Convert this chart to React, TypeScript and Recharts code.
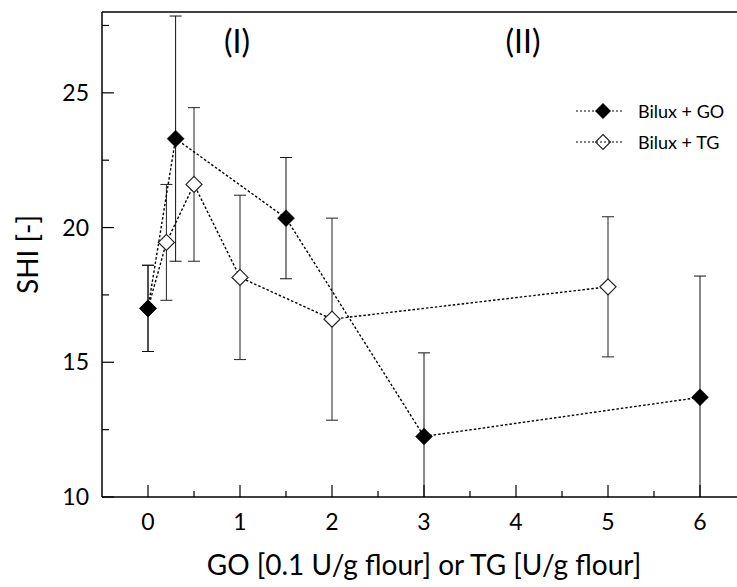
import React from 'react';
import { LineChart, Line, XAxis, YAxis, ErrorBar, ReferenceLine, Legend } from 'recharts';

const FONT = 'Lato, "Open Sans", sans-serif';

// Bilux + GO
const goX = [0, 0.3, 1.5, 3, 6];
const goY = [17.0, 23.3, 20.35, 12.25, 13.7];
const goErr = [1.6, 4.55, 2.25, 3.1, 4.5];

// Bilux + TG
const tgX = [0, 0.2, 0.5, 1, 2, 5];
const tgY = [17.0, 19.45, 21.6, 18.15, 16.6, 17.8];
const tgErr = [1.6, 2.15, 2.85, 3.05, 3.75, 2.6];

const xTicks = [0, 0.5, 1, 1.5, 2, 2.5, 3, 3.5, 4, 4.5, 5, 5.5, 6];
const yTicks = [10, 12.5, 15, 17.5, 20, 22.5, 25, 27.5];
const yLabelTicks = [10, 15, 20, 25];

const seriesNames = ['Bilux + GO', 'Bilux + TG'];
const regionLabels = ['(I)', '(II)'];

const goData = goX.map((x, i) => ({ x, y: goY[i], err: goErr[i] }));
const tgData = tgX.map((x, i) => ({ x, y: tgY[i], err: tgErr[i] }));

// plot box in chart pixels (margin left 102, top 12, right 14, x-axis height 90)
const PLOT = { x: 102, y: 12, w: 644, h: 485 };

const diamond = (cx: number, cy: number, r: number) =>
  `M${cx},${cy - r} L${cx + r},${cy} L${cx},${cy + r} L${cx - r},${cy} Z`;

const FilledDot = (p: any) => <path key={p.index} d={diamond(p.cx, p.cy, 8.5)} fill="#000" stroke="#000" strokeWidth={0.5} />;
const OpenDot = (p: any) => <path key={p.index} d={diamond(p.cx, p.cy, 8)} fill="#fff" stroke="#222" strokeWidth={1.2} />;

const XTick = ({ x, y, payload }: any) => {
  const major = Number.isInteger(payload.value);
  return (
    <g>
      <line x1={x} x2={x} y1={y} y2={y - (major ? 12 : 6)} stroke="#000" strokeWidth={1.2} />
      {major && (
        <text x={x} y={y + 33} textAnchor="middle" fontSize={23} fontFamily={FONT} fill="#000">
          {payload.value}
        </text>
      )}
    </g>
  );
};

const YTick = ({ x, y, payload }: any) => {
  const major = yLabelTicks.includes(payload.value);
  return (
    <g>
      <line x1={x} x2={x + (major ? 12 : 7)} y1={y} y2={y} stroke="#000" strokeWidth={1.2} />
      {major && (
        <text x={x - 13} y={y + 8} textAnchor="end" fontSize={23} fontFamily={FONT} fill="#000">
          {payload.value}
        </text>
      )}
    </g>
  );
};

const YTitle = ({ viewBox }: any) => {
  const cx = viewBox.x + 27;
  const cy = viewBox.y + viewBox.height / 2;
  return (
    <text x={cx} y={cy} transform={`rotate(-90 ${cx} ${cy})`} textAnchor="middle" dominantBaseline="central" fontSize={28} fontFamily={FONT} fill="#000">
      SHI [-]
    </text>
  );
};

const LegendBox = () => (
  <div style={{ fontFamily: FONT, fontSize: 18, color: '#000' }}>
    {seriesNames.map((name, i) => (
      <div key={name} style={{ display: 'flex', alignItems: 'center', height: 31 }}>
        <svg width={46} height={20}>
          <line x1={0} x2={46} y1={10} y2={10} stroke="#000" strokeWidth={1.2} strokeDasharray="2 2" />
          {i === 0 ? (
            <path d={diamond(27, 10, 8)} fill="#000" />
          ) : (
            <path d={diamond(27, 10, 7.5)} fill="none" stroke="#222" strokeWidth={1.1} />
          )}
        </svg>
        <span style={{ marginLeft: 16 }}>{name}</span>
      </div>
    ))}
  </div>
);

export default function App() {
  return (
    <div style={{ position: 'absolute', left: 0, top: 0, width: 737, height: 587, overflow: 'hidden', background: '#fff' }}>
      <svg width={0} height={0} style={{ position: 'absolute' }}>
        <defs>
          <clipPath id="plot-clip" clipPathUnits="userSpaceOnUse">
            <rect x={PLOT.x} y={PLOT.y} width={PLOT.w} height={PLOT.h} />
          </clipPath>
        </defs>
      </svg>
      <LineChart width={760} height={587} margin={{ top: PLOT.y, right: 14, bottom: 0, left: 0 }}>
        <XAxis
          type="number"
          dataKey="x"
          domain={[-0.5, 6.5]}
          ticks={xTicks}
          interval={0}
          tickSize={0}
          tickMargin={0}
          tickLine={false}
          tick={<XTick />}
          axisLine={{ stroke: '#000', strokeWidth: 1.5 }}
          height={90}
          allowDataOverflow
          label={{ value: 'GO [0.1 U/g flour] or TG [U/g flour]', position: 'insideBottom', offset: 12, fill: '#000', fontSize: 28, fontFamily: FONT }}
        />
        <YAxis
          type="number"
          domain={[10, 28]}
          ticks={yTicks}
          interval={0}
          tickSize={0}
          tickMargin={0}
          tickLine={false}
          tick={<YTick />}
          axisLine={{ stroke: '#000', strokeWidth: 1.5 }}
          width={PLOT.x}
          allowDataOverflow
          label={<YTitle />}
        />
        <ReferenceLine y={28} stroke="#000" strokeWidth={1.5} />
        <Legend
          layout="horizontal"
          align="center"
          verticalAlign="middle"
          wrapperStyle={{ left: 576, top: 95, width: 170 }}
          content={<LegendBox />}
        />
        <Line
          data={tgData}
          dataKey="y"
          name={seriesNames[1]}
          stroke="#000"
          strokeWidth={1.4}
          strokeDasharray="2.5 2"
          dot={OpenDot}
          activeDot={false}
          isAnimationActive={false}
        >
          <ErrorBar dataKey="err" direction="y" width={6} stroke="#222" strokeWidth={1} clipPath="url(#plot-clip)" isAnimationActive={false} />
        </Line>
        <Line
          data={goData}
          dataKey="y"
          name={seriesNames[0]}
          stroke="#000"
          strokeWidth={1.4}
          strokeDasharray="2.5 2"
          dot={FilledDot}
          activeDot={false}
          isAnimationActive={false}
        >
          <ErrorBar dataKey="err" direction="y" width={6} stroke="#111" strokeWidth={1} clipPath="url(#plot-clip)" isAnimationActive={false} />
        </Line>
      </LineChart>
      <div style={{ position: 'absolute', left: 237, top: 40, transform: 'translate(-50%, -50%)', fontFamily: FONT, fontSize: 32 }}>
        {regionLabels[0]}
      </div>
      <div style={{ position: 'absolute', left: 523, top: 40, transform: 'translate(-50%, -50%)', fontFamily: FONT, fontSize: 32 }}>
        {regionLabels[1]}
      </div>
    </div>
  );
}
